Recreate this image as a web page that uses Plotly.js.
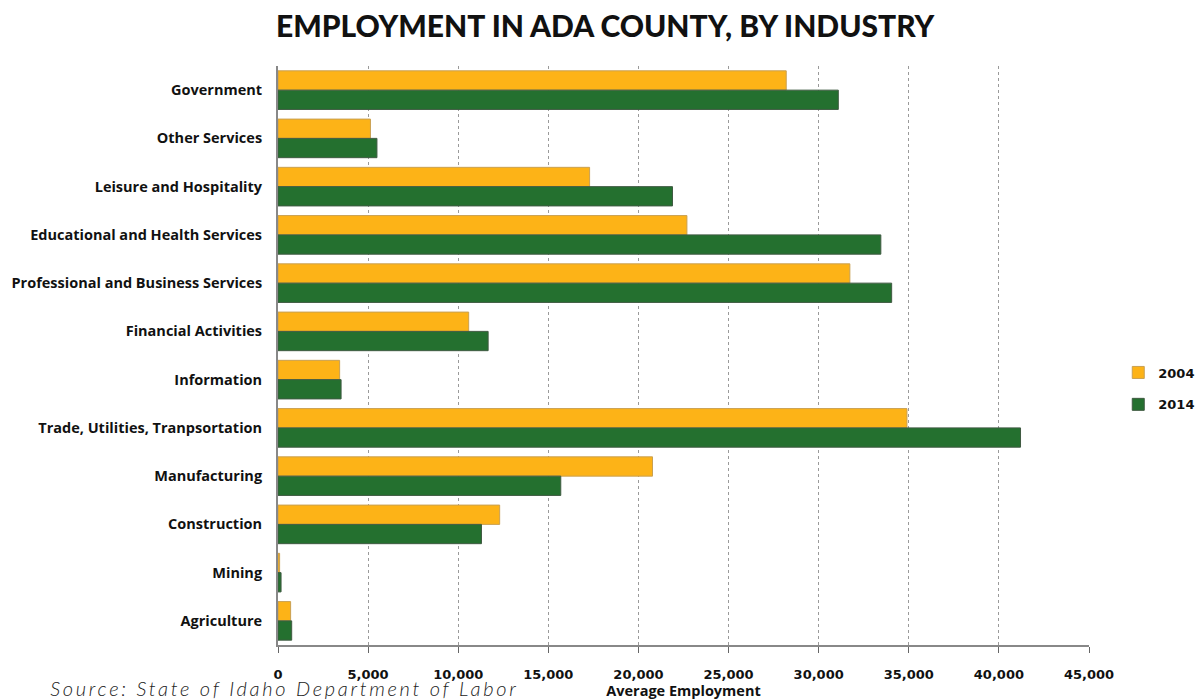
<!DOCTYPE html>
<html>
<head>
<meta charset="utf-8">
<script src="https://cdn.plot.ly/plotly-3.0.1.min.js"></script>
<style>
  html, body { margin: 0; padding: 0; background: #fff; }
  #chart { width: 1196px; height: 700px; }
</style>
</head>
<body>
<div id="chart"></div>
<script>
const industries = [
  "Government",
  "Other Services",
  "Leisure and Hospitality",
  "Educational and Health Services",
  "Professional and Business Services",
  "Financial Activities",
  "Information",
  "Trade, Utilities, Tranpsortation",
  "Manufacturing",
  "Construction",
  "Mining",
  "Agriculture"
];
const employment2004 = [28200, 5130, 17290, 22690, 31730, 10580, 3420, 34900, 20780, 12300, 90, 700];
const employment2014 = [31090, 5490, 21890, 33450, 34050, 11660, 3500, 41200, 15690, 11290, 170, 760];
const seriesNames = ["2004", "2014"];
const xTicks = [0, 5000, 10000, 15000, 20000, 25000, 30000, 35000, 40000, 45000];

const labelFont = "'Open Sans', Lato, sans-serif";
const numFont = "'DejaVu Sans', 'Open Sans', sans-serif";
const titleFont = "Lato, 'Open Sans', sans-serif";

const traces = [
  {
    type: "bar", orientation: "h", name: seriesNames[0], legendgroup: "a",
    y: industries, x: employment2004,
    marker: { color: "#FDB317", line: { color: "#C9A052", width: 1 } }
  },
  {
    type: "bar", orientation: "h", name: seriesNames[1], legendgroup: "b",
    y: industries, x: employment2014,
    marker: { color: "#24702F", line: { color: "#3F5A42", width: 1 } }
  }
];

const layout = {
  width: 1196, height: 700,
  margin: { l: 278, r: 107, t: 66, b: 55 },
  paper_bgcolor: "#fff", plot_bgcolor: "#fff",
  barmode: "group", bargap: 0.2, bargroupgap: 0,
  showlegend: true,
  title: {
    text: "EMPLOYMENT IN ADA COUNTY, BY INDUSTRY",
    font: { family: titleFont, size: 30, weight: 900, color: "#111" },
    xref: "container", x: 0.506, xanchor: "center", yref: "container", y: 0.962, yanchor: "middle"
  },
  xaxis: {
    range: [0, 45000], tickvals: xTicks,
    tickformat: ",d",
    showgrid: true, gridcolor: "#9a9a9a", griddash: "dot", gridwidth: 1,
    zeroline: false,
    showline: true, linecolor: "#888", linewidth: 2,
    ticks: "outside", ticklen: 6, tickcolor: "#666",
    ticklabelstandoff: 10,
    tickfont: { family: numFont, size: 13, weight: 700, color: "#111" },
    title: { text: "Average Employment", font: { family: labelFont, size: 14.5, weight: 700, color: "#111" }, standoff: 6 },
    fixedrange: true
  },
  yaxis: {
    autorange: "reversed",
    showgrid: false, zeroline: false,
    showline: true, linecolor: "#888", linewidth: 2,
    ticks: "", ticklabelstandoff: 11,
    tickfont: { family: labelFont, size: 14.5, weight: 700, color: "#111" },
    fixedrange: true
  },
  legend: {
    xref: "container", yref: "container",
    x: 0.935, xanchor: "left", y: 0.445, yanchor: "middle",
    font: { family: numFont, size: 13, weight: 700, color: "#111" },
    traceorder: "grouped", tracegroupgap: 12, itemwidth: 30
  },
  annotations: [
    {
      text: "Source: State of Idaho Department of Labor",
      xref: "paper", yref: "paper",
      x: 0.008, xanchor: "center", y: -0.075, yanchor: "middle",
      showarrow: false,
      font: { family: titleFont, size: 20, style: "italic", weight: 300, color: "#222" }
    }
  ]
};

Plotly.newPlot("chart", traces, layout, { displayModeBar: false, staticPlot: true }).then(() => {
  document.querySelectorAll(".annotation-text").forEach(t => t.style.letterSpacing = "2.7px");
});
</script>
</body>
</html>
